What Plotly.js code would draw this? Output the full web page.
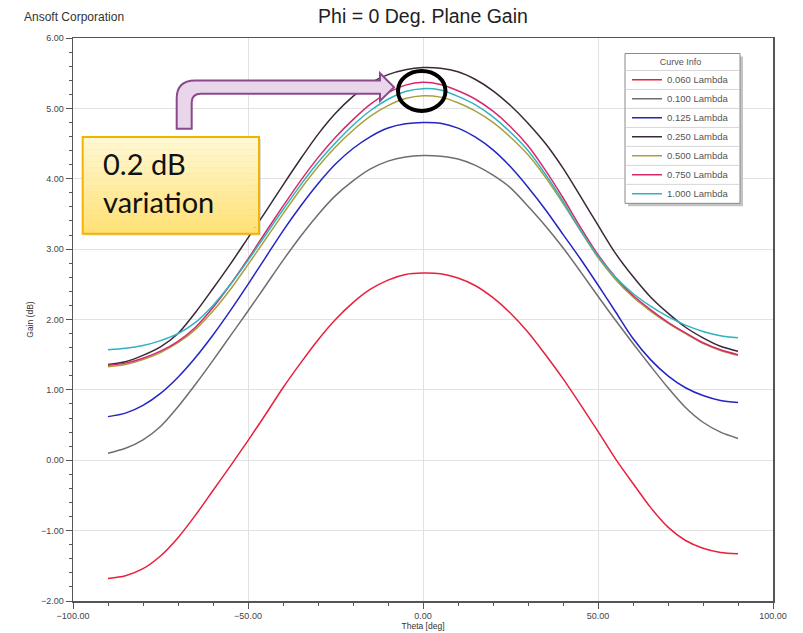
<!DOCTYPE html>
<html>
<head>
<meta charset="utf-8">
<script src="https://cdn.plot.ly/plotly-3.0.1.min.js"></script>
<style>html,body{margin:0;padding:0;background:#fff;}#chart{width:803px;height:633px;}</style>
</head>
<body>
<div id="chart"></div>
<script>
// ---- data ----
const theta = [-90,-85,-80,-75,-70,-65,-60,-55,-50,-45,-40,-35,-30,-25,-20,-15,-10,-5,0,
               5,10,15,20,25,30,35,40,45,50,55,60,65,70,75,80,85,90];
const seriesNames = ['0.060 Lambda','0.100 Lambda','0.125 Lambda','0.250 Lambda','0.500 Lambda','0.750 Lambda','1.000 Lambda'];
const seriesColors = ['#e8203c','#6e6e6e','#2424c4','#3a2838','#a8a040','#d8286c','#2fb2c2'];
const gain060 = [-1.68,-1.64,-1.54,-1.36,-1.10,-0.78,-0.43,-0.08,0.28,0.65,1.03,1.38,1.71,2.00,2.24,2.43,2.56,2.64,2.66,
                 2.65,2.59,2.48,2.31,2.09,1.82,1.50,1.16,0.79,0.41,0.02,-0.33,-0.67,-0.95,-1.14,-1.25,-1.31,-1.33];
const gain100 = [0.10,0.17,0.29,0.48,0.76,1.08,1.42,1.77,2.12,2.48,2.84,3.18,3.49,3.76,3.97,4.14,4.25,4.31,4.33,
                 4.32,4.28,4.19,4.05,3.87,3.61,3.33,3.02,2.68,2.33,1.99,1.66,1.34,1.03,0.75,0.54,0.40,0.31];
const gain125 = [0.62,0.67,0.78,0.95,1.18,1.46,1.78,2.13,2.50,2.88,3.26,3.61,3.93,4.21,4.43,4.60,4.72,4.78,4.80,
                 4.79,4.72,4.59,4.41,4.17,3.88,3.56,3.21,2.86,2.49,2.11,1.73,1.43,1.20,1.03,0.92,0.85,0.82];
const gain250 = [1.36,1.40,1.49,1.61,1.80,2.10,2.44,2.79,3.16,3.53,3.91,4.28,4.63,4.93,5.17,5.36,5.48,5.55,5.58,
                 5.57,5.52,5.41,5.25,5.04,4.79,4.50,4.15,3.75,3.34,2.94,2.61,2.32,2.09,1.89,1.74,1.62,1.55];
const gain500 = [1.33,1.36,1.43,1.53,1.67,1.86,2.12,2.43,2.78,3.14,3.50,3.85,4.17,4.45,4.69,4.89,5.04,5.14,5.18,
                 5.16,5.08,4.96,4.80,4.59,4.34,4.02,3.65,3.26,2.88,2.57,2.32,2.12,1.95,1.80,1.66,1.56,1.49];
const gain750 = [1.35,1.38,1.45,1.55,1.69,1.89,2.17,2.50,2.86,3.24,3.61,3.97,4.30,4.59,4.84,5.06,5.22,5.33,5.37,
                 5.34,5.25,5.13,4.96,4.74,4.47,4.12,3.73,3.31,2.92,2.60,2.34,2.14,1.96,1.81,1.67,1.57,1.50];
const gain1000 = [1.57,1.59,1.63,1.70,1.80,1.96,2.20,2.50,2.84,3.20,3.56,3.91,4.23,4.51,4.76,4.97,5.13,5.24,5.28,
                  5.26,5.17,5.05,4.88,4.66,4.40,4.06,3.68,3.27,2.90,2.60,2.37,2.19,2.04,1.92,1.83,1.77,1.74];
const allGains = [gain060,gain100,gain125,gain250,gain500,gain750,gain1000];

const chartTitle = 'Phi = 0 Deg. Plane Gain';
const companyLabel = 'Ansoft Corporation';
const xTitle = 'Theta [deg]';
const yTitle = 'Gain (dB)';
const legendTitle = 'Curve Info';
const calloutText = '0.2 dB<br>variation';

// ---- layout geometry (pixels of the 803x633 page) ----
const W = 803, H = 633;
const PL = 73, PR = 773, PT = 37.5, PB = 601;
const px = p => (p - PL) / (PR - PL);
const py = p => (PB - p) / (PB - PT);

const traces = seriesNames.map((n, i) => ({
  type: 'scatter', mode: 'lines', name: n, x: theta, y: allGains[i],
  line: {color: seriesColors[i], width: 1.5, shape: 'spline', smoothing: 0.8}
}));

const shapes = [];
// legend frame (shadow, background, row separators, border)
const LX0 = 625, LX1 = 740, LY0 = 53, LY1 = 203;
shapes.push({type:'rect', xref:'paper', yref:'paper', layer:'above',
  x0: px(LX0+3), x1: px(LX1+3), y0: py(LY1+3), y1: py(LY0+3), fillcolor:'#c4c4c4', line:{width:0}});
shapes.push({type:'rect', xref:'paper', yref:'paper', layer:'above',
  x0: px(LX0), x1: px(LX1), y0: py(LY1), y1: py(LY0), fillcolor:'#ffffff', line:{color:'#8a8a8a', width:1}});
const sepY = [70, 89, 108, 127, 146, 165, 184];
sepY.forEach(s => shapes.push({type:'line', xref:'paper', yref:'paper', layer:'above',
  x0: px(LX0+1), x1: px(LX1-1), y0: py(s), y1: py(s), line:{color:'#d6d6d6', width:1}}));

// callout box gradient bands
const bx0 = 82.7, bx1 = 259, by0 = 136.7, by1 = 233.3;
const nb = 16;
function lerp(a, b, t) { return Math.round(a + (b - a) * t); }
shapes.push({type:'rect', xref:'paper', yref:'paper', layer:'above',
  x0: px(bx0+2), x1: px(bx1+2), y0: py(by1+2), y1: py(by0+2), fillcolor:'rgba(120,120,120,0.25)', line:{width:0}});
for (let k = 0; k < nb; k++) {
  const t = k / (nb - 1);
  const c = 'rgb(' + lerp(255,255,t) + ',' + lerp(248,225,t) + ',' + lerp(210,120,t) + ')';
  shapes.push({type:'rect', xref:'paper', yref:'paper', layer:'above',
    x0: px(bx0), x1: px(bx1), y0: py(by0 + (by1-by0)*(k+1)/nb), y1: py(by0 + (by1-by0)*k/nb),
    fillcolor: c, line: {width: 0}});
}
shapes.push({type:'rect', xref:'paper', yref:'paper', layer:'above',
  x0: px(bx0), x1: px(bx1), y0: py(by1), y1: py(by0), fillcolor:'rgba(0,0,0,0)',
  line:{color:'#f2b400', width:2}});

// bent arrow
function P(x, y) { return px(x).toFixed(5) + ',' + py(y).toFixed(5); }
const arrowPath = 'M' + P(176.7,128.3) + ' L' + P(176.7,98) + ' Q' + P(176.7,80) + ' ' + P(195,80) +
  ' L' + P(380,80) + ' L' + P(380,72.7) + ' L' + P(394,86.7) + ' L' + P(380,100.5) + ' L' + P(380,93.3) +
  ' L' + P(201,93.3) + ' Q' + P(191.7,93.3) + ' ' + P(191.7,102) + ' L' + P(191.7,128.3) + ' Z';
shapes.push({type:'path', xref:'paper', yref:'paper', layer:'above', path: arrowPath,
  fillcolor:'#ead6ea', line:{color:'#8a4a8a', width:2}});

// highlight ellipse
shapes.push({type:'circle', xref:'paper', yref:'paper', layer:'above',
  x0: px(398), x1: px(445.5), y0: py(110.5), y1: py(70.5), fillcolor:'rgba(0,0,0,0)',
  line:{color:'#000', width:4}});

const tickFont = {family:'Liberation Sans, Arial, sans-serif', size:9, color:'#444'};

const layout = {
  width: W, height: H,
  paper_bgcolor:'#fff', plot_bgcolor:'#fff',
  margin: {l: PL, r: W - PR, t: PT, b: H - PB, pad: 0},
  title: {text: chartTitle, x: 0.5, xref:'paper', y: 1 - 16/H, yref:'container', yanchor:'middle',
    font:{family:'Liberation Sans, Arial, sans-serif', size:19.5, color:'#222'}},
  xaxis: {range:[-100,100], dtick:50, tick0:0, tickformat:'.2f', ticks:'outside', ticklen:6, tickcolor:'#555',
    showgrid:true, gridcolor:'#e2e2e2', zeroline:false, showline:true, linecolor:'#555', linewidth:1.5, mirror:true,
    minor:{dtick:10, ticks:'outside', ticklen:3, tickcolor:'#555', showgrid:false},
    tickfont: tickFont,
    title:{text:xTitle, font:{family:'Liberation Sans, Arial, sans-serif', size:8.5, color:'#333'}, standoff:0}},
  yaxis: {range:[-2,6], dtick:1, tick0:0, tickformat:'.2f', ticks:'outside', ticklen:6, tickcolor:'#555',
    showgrid:true, gridcolor:'#e2e2e2', zeroline:false, showline:true, linecolor:'#555', linewidth:1.5, mirror:true,
    minor:{dtick:0.2, ticks:'outside', ticklen:3, tickcolor:'#555', showgrid:false},
    tickfont: tickFont,
    title:{text:yTitle, font:{family:'Liberation Sans, Arial, sans-serif', size:8.5, color:'#333'}, standoff:6}},
  showlegend: true,
  legend: {x: px(627), y: py(53), xanchor:'left', yanchor:'top', bgcolor:'rgba(0,0,0,0)', borderwidth:0,
    font:{family:'Liberation Sans, Arial, sans-serif', size:9.5, color:'#555'},
    title:{text:legendTitle, side:'top center', font:{family:'Liberation Sans, Arial, sans-serif', size:9, color:'#555'}},
    itemwidth:30, traceorder:'normal'},
  shapes: shapes,
  annotations: [
    {text: companyLabel, xref:'paper', yref:'paper', x: px(22), y: py(16), xanchor:'left', yanchor:'middle',
     showarrow:false, font:{family:'Liberation Sans, Arial, sans-serif', size:12, color:'#333'}},
    {text: calloutText, xref:'paper', yref:'paper', x: px(101), y: py(182), xanchor:'left', yanchor:'middle',
     align:'left', showarrow:false, font:{family:'Lato, Open Sans, sans-serif', size:29, color:'#111'}}
  ]
};

Plotly.newPlot('chart', traces, layout, {displayModeBar:false, staticPlot:true});
</script>
</body>
</html>
